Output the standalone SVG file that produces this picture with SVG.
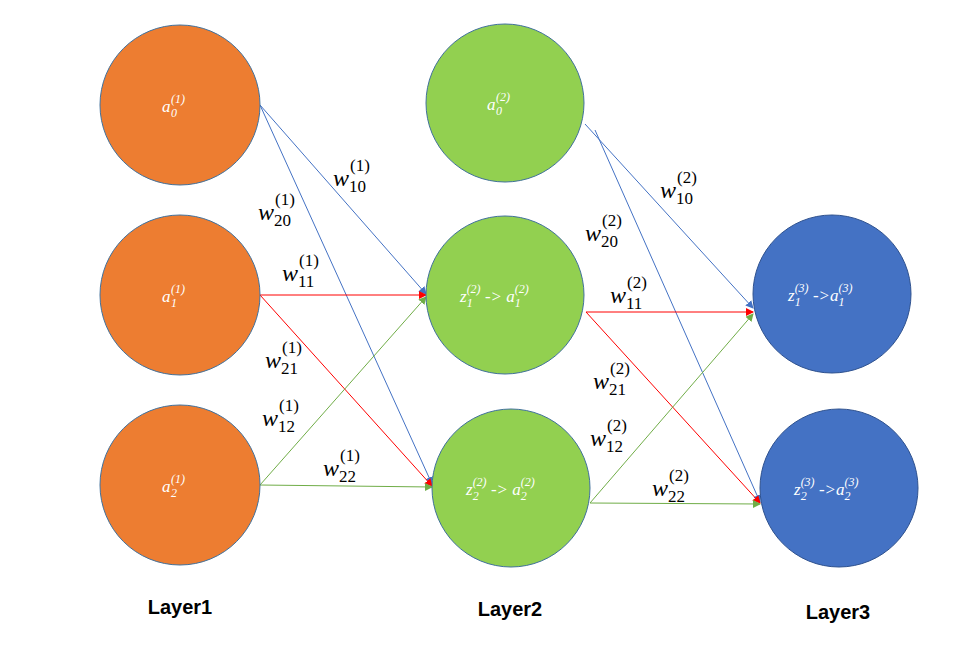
<svg xmlns="http://www.w3.org/2000/svg" width="970" height="649" viewBox="0 0 970 649">
<style>
.o{fill:#ED7D31;stroke:#41719C;stroke-width:1}
.g{fill:#92D050;stroke:#41719C;stroke-width:1}
.b{fill:#4472C4;stroke:#2F528F;stroke-width:1}
.nt{font-family:"Liberation Serif",serif;font-style:italic;fill:#fff;font-size:17px}
.ns{font-family:"Liberation Serif",serif;font-style:italic;fill:#fff;font-size:12px}
.w{font-family:"Liberation Serif",serif;font-style:italic;fill:#000;font-size:24px}
.ws{font-family:"Liberation Serif",serif;fill:#000;font-size:17px}
.L{font-family:"Liberation Sans",sans-serif;font-weight:bold;font-size:20px;fill:#000}
.eb{stroke:#4472C4;stroke-width:1;fill:none;marker-end:url(#mb)}
.er{stroke:#FF0000;stroke-width:1;fill:none;marker-end:url(#mr)}
.eg{stroke:#70AD47;stroke-width:1;fill:none;marker-end:url(#mg)}
</style>
<defs>
<marker id="mb" markerWidth="8" markerHeight="8" refX="7" refY="4" orient="auto" markerUnits="userSpaceOnUse"><path d="M0,0L8,4L0,8z" fill="#4472C4"/></marker>
<marker id="mr" markerWidth="8" markerHeight="8" refX="7" refY="4" orient="auto" markerUnits="userSpaceOnUse"><path d="M0,0L8,4L0,8z" fill="#FF0000"/></marker>
<marker id="mg" markerWidth="8" markerHeight="8" refX="7" refY="4" orient="auto" markerUnits="userSpaceOnUse"><path d="M0,0L8,4L0,8z" fill="#70AD47"/></marker>
</defs>
<rect width="970" height="649" fill="#fff"/>
<g id="edges">
<line class="eb" x1="260" y1="105" x2="426" y2="294"/>
<line class="eb" x1="260" y1="105" x2="432" y2="484"/>
<line class="er" x1="260" y1="295" x2="426" y2="295"/>
<line class="er" x1="260" y1="295" x2="432" y2="486"/>
<line class="eg" x1="260" y1="485" x2="426" y2="297"/>
<line class="eg" x1="260" y1="485" x2="432" y2="487"/>
<line class="eb" x1="585" y1="124" x2="753" y2="308"/>
<line class="eb" x1="595" y1="130" x2="760" y2="502"/>
<line class="er" x1="586" y1="312" x2="753" y2="312"/>
<line class="er" x1="586" y1="312" x2="760" y2="503"/>
<line class="eg" x1="590" y1="503" x2="753" y2="314"/>
<line class="eg" x1="590" y1="503" x2="760" y2="504"/>
</g>
<g id="n_a01"><circle class="o" cx="180" cy="105" r="80"/><text class="nt" x="162" y="112">a</text><text class="ns" x="171" y="117">0</text><text class="ns" x="171" y="103">(1)</text></g>
<g id="n_a11"><circle class="o" cx="180" cy="295" r="80"/><text class="nt" x="162" y="302">a</text><text class="ns" x="171" y="307">1</text><text class="ns" x="171" y="293">(1)</text></g>
<g id="n_a21"><circle class="o" cx="180" cy="485" r="80"/><text class="nt" x="162" y="492">a</text><text class="ns" x="171" y="497">2</text><text class="ns" x="171" y="483">(1)</text></g>
<g id="n_a02"><circle class="g" cx="505" cy="103" r="79"/><text class="nt" x="487" y="110">a</text><text class="ns" x="496" y="115">0</text><text class="ns" x="496" y="101">(2)</text></g>
<g id="n_z12"><circle class="g" cx="505" cy="295" r="79"/><text class="nt" x="460" y="302">z<tspan class="ns" dy="5">1</tspan><tspan class="ns" dx="-6" dy="-14">(2)</tspan><tspan dy="9"> -&gt; a</tspan><tspan class="ns" dy="5">1</tspan><tspan class="ns" dx="-6" dy="-14">(2)</tspan></text></g>
<g id="n_z22"><circle class="g" cx="511" cy="488" r="79"/><text class="nt" x="466" y="495">z<tspan class="ns" dy="5">2</tspan><tspan class="ns" dx="-6" dy="-14">(2)</tspan><tspan dy="9"> -&gt; a</tspan><tspan class="ns" dy="5">2</tspan><tspan class="ns" dx="-6" dy="-14">(2)</tspan></text></g>
<g id="n_z13"><circle class="b" cx="832" cy="294" r="79"/><text class="nt" x="788" y="301">z<tspan class="ns" dy="5">1</tspan><tspan class="ns" dx="-6" dy="-14">(3)</tspan><tspan dy="9"> -&gt;a</tspan><tspan class="ns" dy="5">1</tspan><tspan class="ns" dx="-6" dy="-14">(3)</tspan></text></g>
<g id="n_z23"><circle class="b" cx="839" cy="488" r="79"/><text class="nt" x="794" y="495">z<tspan class="ns" dy="5">2</tspan><tspan class="ns" dx="-6" dy="-14">(3)</tspan><tspan dy="9"> -&gt;a</tspan><tspan class="ns" dy="5">2</tspan><tspan class="ns" dx="-6" dy="-14">(3)</tspan></text></g>
<g id="labels">
<text class="w" x="333" y="186">w</text><text class="ws" x="350" y="171">(1)</text><text class="ws" x="349" y="192">10</text>
<text class="w" x="258" y="220">w</text><text class="ws" x="275" y="205">(1)</text><text class="ws" x="274" y="226">20</text>
<text class="w" x="282" y="281">w</text><text class="ws" x="299" y="266">(1)</text><text class="ws" x="298" y="287">11</text>
<text class="w" x="265" y="368">w</text><text class="ws" x="282" y="353">(1)</text><text class="ws" x="281" y="374">21</text>
<text class="w" x="262" y="426">w</text><text class="ws" x="279" y="411">(1)</text><text class="ws" x="278" y="432">12</text>
<text class="w" x="323" y="476">w</text><text class="ws" x="340" y="461">(1)</text><text class="ws" x="339" y="482">22</text>
<text class="w" x="660" y="198">w</text><text class="ws" x="677" y="183">(2)</text><text class="ws" x="676" y="204">10</text>
<text class="w" x="585" y="241">w</text><text class="ws" x="602" y="226">(2)</text><text class="ws" x="601" y="247">20</text>
<text class="w" x="610" y="303">w</text><text class="ws" x="627" y="288">(2)</text><text class="ws" x="626" y="309">11</text>
<text class="w" x="593" y="389">w</text><text class="ws" x="610" y="374">(2)</text><text class="ws" x="609" y="395">21</text>
<text class="w" x="590" y="446">w</text><text class="ws" x="607" y="431">(2)</text><text class="ws" x="606" y="452">12</text>
<text class="w" x="652" y="496">w</text><text class="ws" x="669" y="481">(2)</text><text class="ws" x="668" y="502">22</text>
<text class="L" x="180" y="614" text-anchor="middle">Layer1</text>
<text class="L" x="510" y="616" text-anchor="middle">Layer2</text>
<text class="L" x="838" y="619" text-anchor="middle">Layer3</text>
</g>
</svg>
